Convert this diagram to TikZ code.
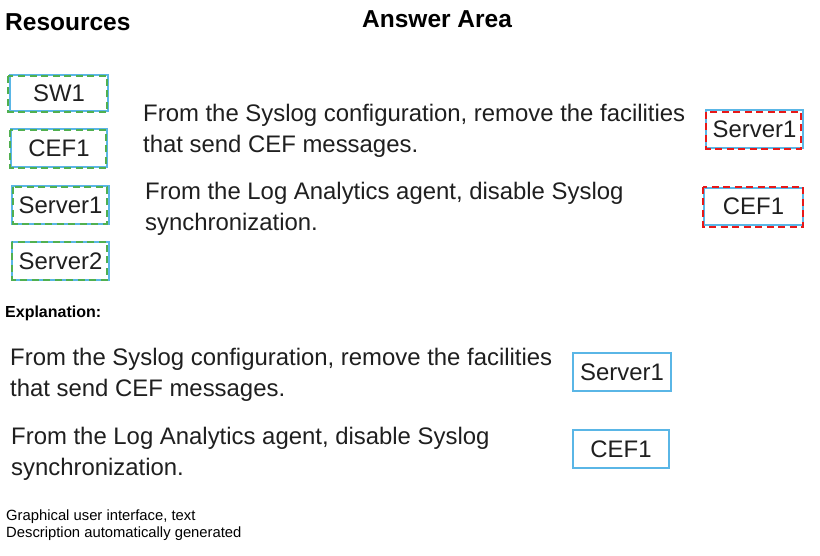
\documentclass[tikz,border=0pt]{standalone}
\usepackage{fontspec}
\setmainfont{Liberation Sans}
\definecolor{boxblue}{RGB}{90,182,230}
\definecolor{dashgreen}{RGB}{80,176,80}
\definecolor{dashred}{RGB}{232,24,24}
\begin{document}
\begin{tikzpicture}[x=1pt,y=-1pt,
  title/.style={anchor=base west,inner sep=0pt,font=\fontsize{24.5}{30}\selectfont\bfseries},
  para/.style={anchor=base west,inner sep=0pt,align=left,font=\fontsize{23.9}{31}\selectfont,text=black!88},
  small/.style={anchor=base west,inner sep=0pt,align=left,font=\fontsize{14.8}{17}\selectfont},
  tile/.style={draw=boxblue,line width=1.6pt,fill=white,inner sep=0pt,font=\fontsize{23.9}{28}\selectfont,text=black!88},
  gdash/.style={draw=dashgreen,line width=1.8pt,dash pattern=on 7pt off 4.5pt},
  rdash/.style={draw=dashred,line width=1.8pt,dash pattern=on 7pt off 4.5pt}]
\useasboundingbox (0,0) rectangle (820,556);
\fill[white] (0,0) rectangle (820,556);
% titles
\node[title] (res) at (5,31) {Resources};
\node[title] (ans) at (362,28) {Answer Area};
% resource tiles
\node[tile,minimum width=98pt,minimum height=36pt] (sw1) at (59,93) {SW1};
\draw[gdash] (8,76) rectangle (107,112);
\node[tile,minimum width=96pt,minimum height=38pt] (cef1) at (59,148) {CEF1};
\draw[gdash] (10,130) rectangle (106,168);
\node[tile,minimum width=97pt,minimum height=38pt] (srv1) at (60.5,205) {Server1};
\draw[gdash] (13,187) rectangle (107,224);
\node[tile,minimum width=97pt,minimum height=38pt] (srv2) at (60.5,261) {Server2};
\draw[gdash] (12,242) rectangle (107,280);
% answer area statements (anchor = baseline of last line)
\node[para] (s1) at (143,153) {From the Syslog configuration, remove the facilities\\that send CEF messages.};
\node[para] (s2) at (145,231) {From the Log Analytics agent, disable Syslog\\synchronization.};
% answer tiles
\node[tile,minimum width=97pt,minimum height=38pt] (a1) at (754.5,129) {Server1};
\draw[rdash] (706,112) rectangle (801,149);
\node[tile,minimum width=99pt,minimum height=37pt] (a2) at (753.5,206.5) {CEF1};
\draw[rdash] (703,187) rectangle (803,227);
% explanation
\node[anchor=base west,inner sep=0pt,font=\fontsize{16}{18}\selectfont\bfseries] (ex) at (5,318) {Explanation:};
\node[para] (e1) at (10,396) {From the Syslog configuration, remove the facilities\\that send CEF messages.};
\node[para] (e2) at (11,475) {From the Log Analytics agent, disable Syslog\\synchronization.};
\node[tile,minimum width=98pt,minimum height=38pt] (b1) at (622,372) {Server1};
\node[tile,minimum width=96pt,minimum height=38pt] (b2) at (621,449) {CEF1};
% caption
\node[small] (cap) at (6,537) {Graphical user interface, text\\Description automatically generated};
\end{tikzpicture}
\end{document}
